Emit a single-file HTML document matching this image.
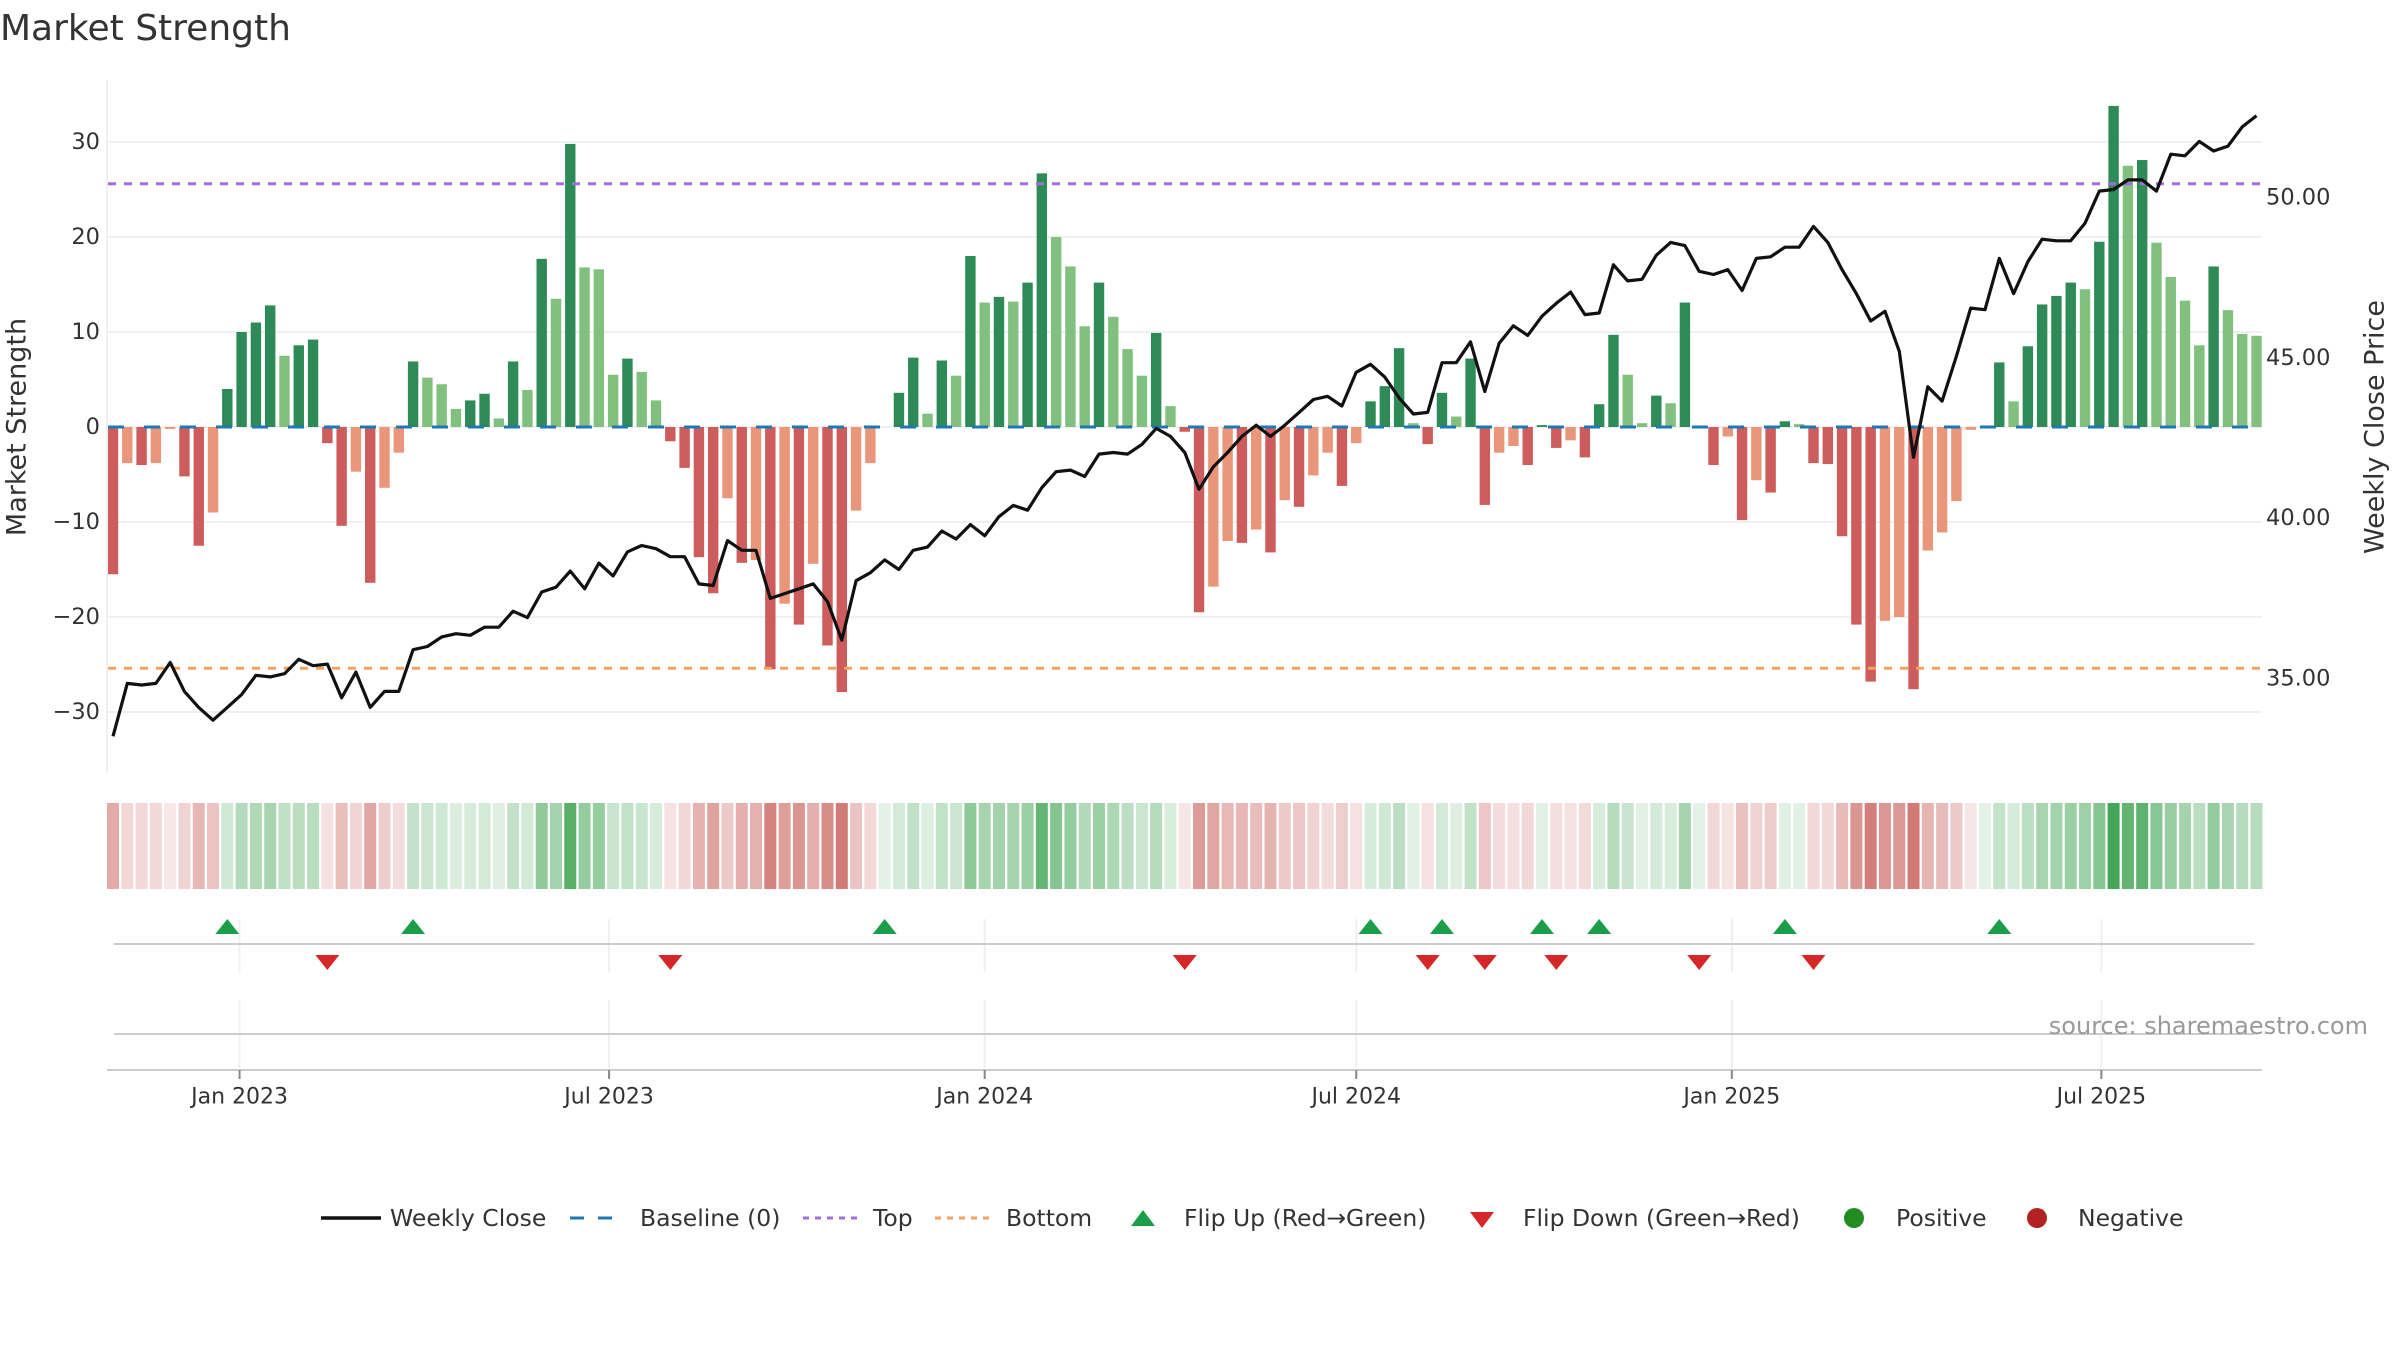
<!DOCTYPE html>
<html><head><meta charset="utf-8"><title>Market Strength</title>
<style>
html,body{margin:0;padding:0;background:#fff;}
svg{display:block;font-family:"DejaVu Sans","Liberation Sans",sans-serif;}
</style></head>
<body>
<svg id="chart" width="2400" height="1350" viewBox="0 0 2400 1350" xmlns="http://www.w3.org/2000/svg">
<rect width="2400" height="1350" fill="#fff"/>
<text x="0" y="40" font-size="36" fill="#333">Market Strength</text>
<g id="grid"></g>
<g id="heat"></g>
<g id="bars"></g>
<g id="lines"></g>
<g id="markers"></g>
<g id="axes"></g>
<text x="17" y="427" font-size="27" fill="#333" text-anchor="middle" transform="rotate(-90 17 427)" dominant-baseline="central">Market Strength</text>
<text x="2375" y="427" font-size="27" fill="#333" text-anchor="middle" transform="rotate(-90 2375 427)" dominant-baseline="central">Weekly Close Price</text>
<text x="2368" y="1034" font-size="24" fill="#999" text-anchor="end">source: sharemaestro.com</text>
<g id="legend" font-size="23.5" fill="#333"></g>
</svg>
<script>
const strength = [
-15.5,-3.8,-4,-3.8,-0.2,-5.2,-12.5,-9,4,10,
11,12.8,7.5,8.6,9.2,-1.7,-10.4,-4.7,-16.4,-6.4,
-2.7,6.9,5.2,4.5,1.9,2.8,3.5,0.9,6.9,3.9,
17.7,13.5,29.8,16.8,16.6,5.5,7.2,5.8,2.8,-1.5,
-4.3,-13.7,-17.5,-7.5,-14.3,-14,-25.5,-18.6,-20.8,-14.4,
-23,-27.9,-8.8,-3.8,0,3.6,7.3,1.4,7,5.4,
18,13.1,13.7,13.2,15.2,26.7,20,16.9,10.6,15.2,
11.6,8.2,5.4,9.9,2.2,-0.5,-19.5,-16.8,-12,-12.2,
-10.8,-13.2,-7.7,-8.4,-5.1,-2.7,-6.2,-1.7,2.7,4.3,
8.3,0.4,-1.8,3.6,1.1,7.2,-8.2,-2.7,-2,-4,
0.2,-2.2,-1.4,-3.2,2.4,9.7,5.5,0.4,3.3,2.5,
13.1,0,-4,-1,-9.8,-5.6,-6.9,0.6,0.3,-3.8,
-3.9,-11.5,-20.8,-26.8,-20.4,-20,-27.6,-13,-11.1,-7.8,
-0.3,0,6.8,2.7,8.5,12.9,13.8,15.2,14.5,19.5,
33.8,27.5,28.1,19.4,15.8,13.3,8.6,16.9,12.3,9.8,
9.6];
const closes = [
33.2,34.85,34.8,34.85,35.5,34.6,34.1,33.7,34.1,34.5,
35.1,35.05,35.15,35.6,35.4,35.45,34.4,35.2,34.1,34.6,
34.6,35.9,36.0,36.3,36.4,36.35,36.6,36.6,37.1,36.9,
37.7,37.85,38.35,37.8,38.6,38.2,38.95,39.15,39.05,38.8,
38.8,37.95,37.9,39.3,39.0,39.0,37.5,37.65,37.8,37.95,
37.4,36.2,38.05,38.3,38.7,38.4,39.0,39.1,39.6,39.35,
39.8,39.45,40.05,40.4,40.25,40.95,41.45,41.5,41.3,42.0,
42.05,42.0,42.3,42.8,42.55,42.05,40.9,41.6,42.05,42.55,
42.9,42.55,42.9,43.3,43.7,43.8,43.5,44.55,44.8,44.4,
43.75,43.25,43.3,44.85,44.85,45.5,43.95,45.45,46.0,45.7,
46.3,46.7,47.05,46.35,46.4,47.9,47.4,47.45,48.2,48.6,
48.5,47.7,47.6,47.75,47.1,48.1,48.15,48.45,48.45,49.1,
48.6,47.75,47.0,46.15,46.45,45.2,41.9,44.1,43.65,45.05,
46.55,46.5,48.1,47.0,48.0,48.7,48.65,48.65,49.2,50.2,
50.25,50.55,50.55,50.2,51.35,51.3,51.75,51.45,51.6,52.2,
52.55];
const flipUp = [8,21,54,88,93,100,104,117,132];
const flipDown = [15,39,75,92,96,101,111,119];
const topLevel = 25.6;
const bottomLevel = -25.4;
const leftTicks = [30,20,10,0,-10,-20,-30];
const leftTickLabels = ["30","20","10","0","\u221210","\u221220","\u221230"];
const rightTicks = [50,45,40,35];
const rightTickLabels = ["50.00","45.00","40.00","35.00"];
const dateTicks = ["2023-01-01","2023-07-01","2024-01-01","2024-07-01","2025-01-01","2025-07-01"];
const dateTickLabels = ["Jan 2023","Jul 2023","Jan 2024","Jul 2024","Jan 2025","Jul 2025"];
const startDate = "2022-10-31";

const NS = "http://www.w3.org/2000/svg";
function mk(tag, attrs, parent){const e=document.createElementNS(NS,tag);for(const k in attrs)e.setAttribute(k,attrs[k]);if(parent)parent.appendChild(e);return e;}
const X0=113, STEP=14.29;
const xi = i => X0 + i*STEP;
const xd = d => X0 + (new Date(d) - new Date(startDate))/(7*86400000)*STEP;
const yL = v => 427 - v*9.5;
const yR = v => 197.5 + (50 - v)*32.07;
const PL=107, PR=2262;

const grid=document.getElementById('grid');
leftTicks.forEach((t,k)=>{
  const g=mk('line',{x1:PL,x2:PR,y1:yL(t),y2:yL(t),stroke:'#eef0f4','stroke-width':2},grid);
  
  
});
const axes=document.getElementById('axes');
const ax=mk('line',{x1:PL,x2:PL,y1:80,y2:773,stroke:'#eef0f4','stroke-width':2},axes);


leftTicks.forEach((t,k)=>{
  const tx=mk('text',{x:100,y:yL(t),'font-size':22.5,fill:'#333','text-anchor':'end','dominant-baseline':'central'},axes);
  tx.textContent=leftTickLabels[k];
  
  
});
rightTicks.forEach((t,k)=>{
  const tx=mk('text',{x:2266,y:yR(t),'font-size':22.5,fill:'#333','dominant-baseline':'central'},axes);
  tx.textContent=rightTickLabels[k];
  
  
});

const heat=document.getElementById('heat');
function mix(c,t){return 'rgb('+c.map(v=>Math.round(255+(v-255)*t)).join(',')+')';}
strength.forEach((v,i)=>{
  const t=Math.min(1,0.14+0.8*Math.abs(v)/34);
  const col = v>=0 ? mix([55,160,75],t) : mix([198,88,82],t);
  const r=mk('rect',{x:xi(i)-6,y:803,width:12,height:86,fill:col},heat);
  
  
});

const bars=document.getElementById('bars');
strength.forEach((v,i)=>{
  if(v===0) return;
  const prev = i>0 ? strength[i-1] : 0;
  const dark = (Math.sign(prev)!==Math.sign(v)) || Math.abs(v)>Math.abs(prev);
  const col = v>0 ? (dark?'#2e8b57':'#81c07f') : (dark?'#cd5c5c':'#e9967a');
  const y1=yL(Math.max(v,0)), y2=yL(Math.min(v,0));
  const r=mk('rect',{x:xi(i)-5.2,y:y1,width:10.4,height:Math.max(1,y2-y1),fill:col},bars);
  
  
});

const lines=document.getElementById('lines');
const bl=mk('line',{x1:xi(0)-5,x2:xi(150)+5,y1:yL(0),y2:yL(0),stroke:'#1f77b4','stroke-width':3,'stroke-dasharray':'16,20'},lines);


const tl=mk('line',{x1:xi(0)-5,x2:xi(150)+5,y1:yL(topLevel),y2:yL(topLevel),stroke:'#a070d8','stroke-width':3,'stroke-dasharray':'8,8'},lines);


const bt=mk('line',{x1:xi(0)-5,x2:xi(150)+5,y1:yL(bottomLevel),y2:yL(bottomLevel),stroke:'#f4a261','stroke-width':3,'stroke-dasharray':'8,8'},lines);


const pts=closes.map((c,i)=>xi(i).toFixed(1)+','+yR(c).toFixed(1)).join(' ');
const pl=mk('polyline',{points:pts,fill:'none',stroke:'#111','stroke-width':3.2,'stroke-linejoin':'round'},lines);



const mg=document.getElementById('markers');
dateTicks.forEach(d=>{
  const x=xd(d);
  const a=mk('line',{x1:x,x2:x,y1:919,y2:972,stroke:'#eef0f4','stroke-width':2},mg);
  
  
  const b=mk('line',{x1:x,x2:x,y1:1000,y2:1068,stroke:'#eef0f4','stroke-width':2},mg);
  
  
});
const h1=mk('line',{x1:114,x2:2254,y1:944,y2:944,stroke:'#ccc','stroke-width':2},mg);


const h2=mk('line',{x1:114,x2:2254,y1:1034,y2:1034,stroke:'#ccc','stroke-width':2},mg);


flipUp.forEach(i=>{
  const x=xi(i);
  const p=mk('polygon',{points:`${x-12},934 ${x+12},934 ${x},919`,fill:'#1a9e4a'},mg);
  
  
});
flipDown.forEach(i=>{
  const x=xi(i);
  const p=mk('polygon',{points:`${x-12},955 ${x+12},955 ${x},970`,fill:'#d62728'},mg);
  
  
});
const xa=mk('line',{x1:PL,x2:PR,y1:1070,y2:1070,stroke:'#ccc','stroke-width':2},axes);


dateTicks.forEach((d,k)=>{
  const x=xd(d);
  const tk=mk('line',{x1:x,x2:x,y1:1070,y2:1079,stroke:'#888','stroke-width':2},axes);
  
  
  const tx=mk('text',{x:x,y:1097,'font-size':22,fill:'#333','text-anchor':'middle','dominant-baseline':'central'},axes);
  tx.textContent=dateTickLabels[k];
  
  
});

const lg=document.getElementById('legend');
const LY=1218;
function ltext(x,s){const t=mk('text',{x:x,y:LY,'dominant-baseline':'central'},lg);t.textContent=s;}
let e;
e=mk('line',{x1:321,x2:381,y1:LY,y2:LY,stroke:'#111','stroke-width':3.5},lg);


ltext(390,'Weekly Close');
e=mk('line',{x1:570,x2:626,y1:LY,y2:LY,stroke:'#1f77b4','stroke-width':3,'stroke-dasharray':'14,14'},lg);


ltext(640,'Baseline (0)');
e=mk('line',{x1:803,x2:862,y1:LY,y2:LY,stroke:'#a070d8','stroke-width':3,'stroke-dasharray':'6,6'},lg);


ltext(873,'Top');
e=mk('line',{x1:935,x2:994,y1:LY,y2:LY,stroke:'#f4a261','stroke-width':3,'stroke-dasharray':'6,6'},lg);


ltext(1006,'Bottom');
e=mk('polygon',{points:'1131,1226 1155,1226 1143,1210',fill:'#1a9e4a'},lg);


ltext(1184,'Flip Up (Red\u2192Green)');
e=mk('polygon',{points:'1470,1212 1494,1212 1482,1228',fill:'#d62728'},lg);


ltext(1523,'Flip Down (Green\u2192Red)');
e=mk('circle',{cx:1854,cy:LY,r:10,fill:'#228b22'},lg);


ltext(1896,'Positive');
e=mk('circle',{cx:2037,cy:LY,r:10,fill:'#b22222'},lg);


ltext(2078,'Negative');
</script>
</body></html>
